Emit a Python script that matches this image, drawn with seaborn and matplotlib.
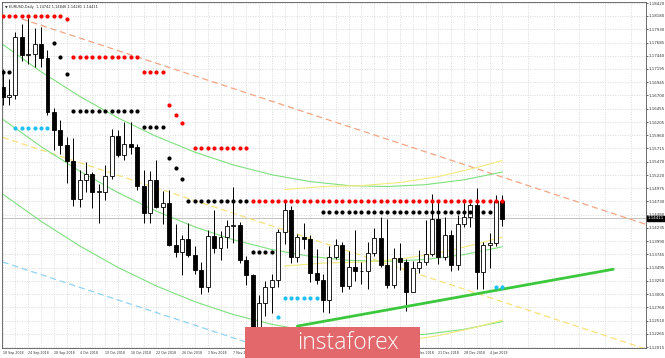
import numpy as np
import pandas as pd
import seaborn as sns
import matplotlib.pyplot as plt
import matplotlib.transforms as mtransforms
from matplotlib.patches import Rectangle

# daily EURUSD bars, 18 Sep 2018 .. 8 Jan 2019 (bar index 0..78)
opens = [1.1686, 1.1667, 1.1671, 1.1778, 1.1746, 1.1748, 1.1765, 1.1740, 1.1640, 1.1605,
         1.1577, 1.1548, 1.1478, 1.1513, 1.1524, 1.1491, 1.1491, 1.1521, 1.1594, 1.1560,
         1.1580, 1.1575, 1.1502, 1.1451, 1.1512, 1.1463, 1.1469, 1.1391, 1.1379, 1.1402,
         1.1373, 1.1346, 1.1313, 1.1408, 1.1387, 1.1407, 1.1427, 1.1429, 1.1364, 1.1335,
         1.1218, 1.1283, 1.1314, 1.1326, 1.1415, 1.1456, 1.1369, 1.1406, 1.1403, 1.1339,
         1.1327, 1.1290, 1.1369, 1.1392, 1.1316, 1.1350, 1.1343, 1.1343, 1.1376, 1.1404,
         1.1354, 1.1317, 1.1367, 1.1361, 1.1305, 1.1348, 1.1361, 1.1375, 1.1441, 1.1370,
         1.1411, 1.1355, 1.1430, 1.1443, 1.1467, 1.1342, 1.1392, 1.1395, 1.1474]
highs = [1.1720, 1.1700, 1.1788, 1.1803, 1.1815, 1.1795, 1.1797, 1.1754, 1.1647, 1.1624,
         1.1593, 1.1590, 1.1532, 1.1547, 1.1528, 1.1505, 1.1540, 1.1608, 1.1605, 1.1621,
         1.1621, 1.1580, 1.1532, 1.1530, 1.1550, 1.1493, 1.1495, 1.1430, 1.1411, 1.1433,
         1.1389, 1.1360, 1.1420, 1.1456, 1.1418, 1.1439, 1.1500, 1.1435, 1.1371, 1.1337,
         1.1298, 1.1325, 1.1338, 1.1421, 1.1473, 1.1464, 1.1412, 1.1433, 1.1411, 1.1384,
         1.1337, 1.1389, 1.1402, 1.1398, 1.1380, 1.1419, 1.1361, 1.1397, 1.1424, 1.1443,
         1.1441, 1.1387, 1.1395, 1.1365, 1.1362, 1.1382, 1.1439, 1.1486, 1.1474, 1.1444,
         1.1420, 1.1447, 1.1478, 1.1470, 1.1497, 1.1398, 1.1414, 1.1484, 1.1485]
lows = [1.1653, 1.1653, 1.1663, 1.1734, 1.1728, 1.1723, 1.1723, 1.1633, 1.1568, 1.1562,
        1.1507, 1.1464, 1.1463, 1.1491, 1.1460, 1.1432, 1.1475, 1.1514, 1.1555, 1.1550,
        1.1561, 1.1495, 1.1432, 1.1433, 1.1460, 1.1430, 1.1390, 1.1369, 1.1336, 1.1369,
        1.1338, 1.1300, 1.1304, 1.1377, 1.1364, 1.1386, 1.1395, 1.1358, 1.1317, 1.1216,
        1.1216, 1.1259, 1.1266, 1.1313, 1.1394, 1.1358, 1.1361, 1.1384, 1.1322, 1.1320,
        1.1267, 1.1266, 1.1366, 1.1305, 1.1310, 1.1325, 1.1320, 1.1310, 1.1371, 1.1350,
        1.1312, 1.1311, 1.1346, 1.1269, 1.1304, 1.1339, 1.1355, 1.1372, 1.1356, 1.1364,
        1.1343, 1.1345, 1.1425, 1.1426, 1.1310, 1.1309, 1.1348, 1.1390, 1.1428]
closes = [1.1667, 1.1671, 1.1778, 1.1746, 1.1748, 1.1765, 1.1740, 1.1640, 1.1605, 1.1577,
          1.1548, 1.1478, 1.1513, 1.1524, 1.1491, 1.1491, 1.1521, 1.1594, 1.1560, 1.1580,
          1.1575, 1.1502, 1.1451, 1.1512, 1.1463, 1.1469, 1.1391, 1.1379, 1.1402, 1.1373,
          1.1346, 1.1313, 1.1408, 1.1387, 1.1407, 1.1427, 1.1429, 1.1364, 1.1335, 1.1218,
          1.1283, 1.1314, 1.1326, 1.1415, 1.1456, 1.1369, 1.1406, 1.1403, 1.1339, 1.1327,
          1.1290, 1.1369, 1.1392, 1.1316, 1.1350, 1.1343, 1.1343, 1.1376, 1.1404, 1.1354,
          1.1317, 1.1367, 1.1361, 1.1305, 1.1348, 1.1361, 1.1375, 1.1441, 1.1370, 1.1411,
          1.1355, 1.1430, 1.1443, 1.1467, 1.1342, 1.1392, 1.1395, 1.1474, 1.1441]

# support / resistance dots: (first bar, last bar, level)
red_levels = [(0, 9, 1.18180), (10, 10, 1.18124), (11, 21, 1.17419), (22, 25, 1.17141),
              (26, 26, 1.16528), (27, 27, 1.16343), (28, 28, 1.16194), (30, 38, 1.15730),
              (39, 78, 1.14728)]
black_levels = [(0, 1, 1.17141), (8, 8, 1.17679), (9, 9, 1.17419), (10, 10, 1.17104),
                (11, 21, 1.16417), (22, 25, 1.16120), (26, 26, 1.15545), (27, 27, 1.15359),
                (28, 28, 1.15140), (29, 38, 1.14728), (39, 42, 1.13781), (50, 76, 1.14524)]
cyan_levels = [(2, 7, 1.16101), (43, 43, 1.12575), (44, 49, 1.12928), (77, 78, 1.13132)]

# curved regression channel (green)
curve_bars = [0, 6, 12, 18, 24, 30, 36, 42, 48, 54, 60, 66, 72, 78]
green_mid = [1.16259, 1.15749, 1.15294, 1.14891, 1.14546, 1.14253, 1.14015,
             1.13833, 1.13705, 1.13631, 1.13613, 1.13648, 1.13739, 1.13884]
green_up = [1.17651, 1.17141, 1.16686, 1.16283, 1.15938, 1.15645, 1.15407,
            1.15225, 1.15097, 1.15023, 1.15005, 1.15040, 1.15131, 1.15276]
green_lo = [1.14867, 1.14357, 1.13902, 1.13499, 1.13154, 1.12861, 1.12623,
            1.12441, 1.12313, 1.12239, 1.12221, 1.12256, 1.12347, 1.12492]

# shorter channel (yellow)
yel_bars = [44, 50, 56, 62, 68, 74, 78]
yel_up = [1.14950, 1.15005, 1.15023, 1.15080, 1.15190, 1.15360, 1.15490]
yel_mid = [1.13525, 1.13580, 1.13598, 1.13655, 1.13765, 1.13935, 1.14065]
yel_lo = [1.12100, 1.12065, 1.12060, 1.12120, 1.12230, 1.12390, 1.12520]

# straight channel and support line
salmon_bars, salmon_vals = [3, 100.4], [1.18124, 1.14301]
ymid_bars, ymid_vals = [0, 100.4], [1.15921, 1.11981]
blue_bars, blue_vals = [0, 45], [1.13601, 1.11835]
support_bars, support_vals = [46, 95.3], [1.12408, 1.13466]

price_ticks = [1.18420, 1.18180, 1.17930, 1.17685, 1.17440, 1.17195, 1.16945, 1.16700,
               1.16455, 1.16205, 1.15960, 1.15715, 1.15470, 1.15220, 1.14975, 1.14730,
               1.14480, 1.14235, 1.13990, 1.13745, 1.13495, 1.13250, 1.13005, 1.12760,
               1.12510, 1.12265, 1.12015]
date_labels = ['18 Sep 2018', '24 Sep 2018', '28 Sep 2018', '4 Oct 2018', '10 Oct 2018',
               '16 Oct 2018', '22 Oct 2018', '26 Oct 2018', '1 Nov 2018', '7 Nov 2018',
               '13 Nov 2018', '19 Nov 2018', '23 Nov 2018', '29 Nov 2018', '5 Dec 2018',
               '11 Dec 2018', '17 Dec 2018', '21 Dec 2018', '28 Dec 2018', '4 Jan 2019']
last_price = 1.14411
header = 'EURUSD,Daily  1.14742 1.14846 1.14281 1.14411'

df = pd.DataFrame({'bar': range(len(opens)), 'open': opens, 'high': highs,
                   'low': lows, 'close': closes})
df['bottom'] = df[['open', 'close']].min(axis=1)
df['height'] = (df['close'] - df['open']).abs().clip(lower=0.00004)
df['up'] = df['close'] >= df['open']


def dots(levels):
    rows = []
    for a, b, v in levels:
        for k in range(a, b + 1):
            rows.append((k, v))
    return pd.DataFrame(rows, columns=['bar', 'level'])


sns.set_style('white')
plt.rcParams['font.family'] = ['DejaVu Sans']

fig = plt.figure(figsize=(6.65, 3.58), dpi=100)
ax = fig.add_axes([2 / 665, 10 / 358, 644 / 665, 346 / 358])

# grid
ax.set_yticks(price_ticks)
ax.set_xticks(list(range(0, 77, 4)))
ax.set_xticks(list(range(2, 101, 4)), minor=True)
ax.grid(True, which='both', ls=(0, (1.5, 2)), color='#d0d0d0', lw=0.5)
ax.set_axisbelow(True)

# straight channel lines
sns.lineplot(x=salmon_bars, y=salmon_vals, color='#f4a583', lw=0.9, ls=(0, (5, 3)), ax=ax)
sns.lineplot(x=ymid_bars, y=ymid_vals, color='#f7e27a', lw=0.9, ls=(0, (5, 3)), ax=ax)
sns.lineplot(x=blue_bars, y=blue_vals, color='#8fd3f5', lw=0.9, ls=(0, (5, 3)), ax=ax)

# curved channels
for vals in (green_up, green_mid, green_lo):
    sns.lineplot(x=curve_bars, y=vals, color='#7ee07e', lw=0.8, ax=ax)
for vals in (yel_up, yel_mid, yel_lo):
    sns.lineplot(x=yel_bars, y=vals, color='#f2ea7c', lw=0.8, ax=ax)

# bid line
ax.axhline(last_price, color='#b8b8b8', lw=0.6, zorder=1)

# candles
ax.vlines(df['bar'], df['low'], df['high'], color='black', lw=0.7, zorder=3)
ax.bar(df['bar'], df['height'], bottom=df['bottom'], width=0.62,
       color=np.where(df['up'], 'white', 'black'), edgecolor='black', lw=0.6, zorder=4)

# thick support line
sns.lineplot(x=support_bars, y=support_vals, color='#3cc83c', lw=2.0, ax=ax, zorder=5)

# dots
for levels, col in ((red_levels, '#ff0000'), (black_levels, 'black'), (cyan_levels, '#1ec0f5')):
    d = dots(levels)
    sns.scatterplot(data=d, x='bar', y='level', color=col, s=9, linewidth=0, ax=ax, zorder=6)

ax.set_xlim(-0.1, 100.4)
ax.set_ylim(1.12000, 1.18440)
ax.set_xlabel('')
ax.set_ylabel('')
ax.yaxis.tick_right()
ax.set_yticklabels([f'{v:.5f}' for v in price_ticks], fontsize=2.9)
ax.set_xticklabels(date_labels, fontsize=2.3, ha='left')
ax.tick_params(axis='both', which='major', length=1.5, width=0.5, pad=0.6, colors='#333333')
ax.tick_params(axis='x', which='minor', length=0)
for s in ax.spines.values():
    s.set_color('#555555')
    s.set_linewidth(0.6)

# current price box
trans = mtransforms.blended_transform_factory(ax.transAxes, ax.transData)
ax.text(1.003, last_price, f'{last_price:.5f}', transform=trans, fontsize=2.9, color='white',
        va='center', ha='left', bbox=dict(boxstyle='square,pad=0.15', fc='black', ec='black'),
        zorder=10)

# header
ax.text(0.004, 0.992, '\u25bc ' + header, transform=ax.transAxes, fontsize=2.5,
        va='top', ha='left', color='#222222')

# watermark
fig.patches.append(Rectangle((245 / 665, 0), 175 / 665, 31 / 358, transform=fig.transFigure,
                             facecolor='#e2686b', edgecolor='none', zorder=20))
fig.text(348 / 665, 15 / 358, 'instaforex', color='white', fontsize=16.5, ha='center',
         va='center', family=['Open Sans', 'DejaVu Sans'], weight='light', zorder=21)

legend = ax.get_legend()
if legend is not None:
    legend.remove()

fig.savefig('out.png', dpi=100)
